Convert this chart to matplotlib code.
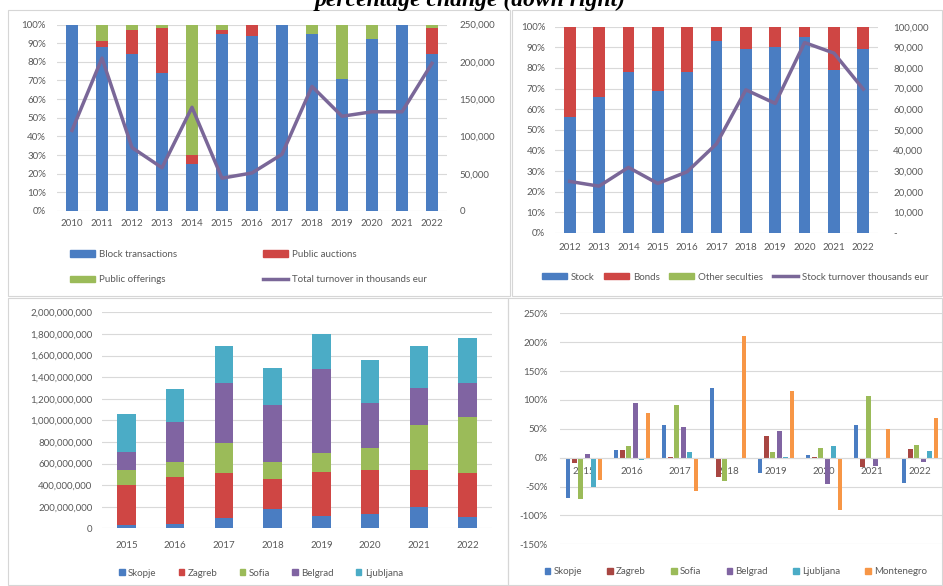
import matplotlib
matplotlib.use("Agg")
import matplotlib.pyplot as plt
from matplotlib.patches import Patch, Rectangle
from matplotlib.lines import Line2D
from matplotlib.ticker import FuncFormatter
import numpy as np

W, H = 943, 586

# --- trading structure by type, 2010-2022 (shares in %) ---
years_a = [str(y) for y in range(2010, 2023)]
block_pct = [100, 88, 84, 74, 25, 95, 94, 100, 95, 71, 92, 100, 84]
auction_pct = [0, 3, 13, 24, 5, 2, 6, 0, 0, 0, 0, 0, 14]
offering_pct = [0, 9, 3, 2, 70, 3, 0, 0, 5, 29, 8, 0, 2]
total_turnover = [108000, 205000, 85000, 58000, 139000, 44000, 51000,
                  76000, 167000, 127000, 133000, 133000, 198000]

# --- stock / bonds structure, 2012-2022 (shares in %) ---
years_b = [str(y) for y in range(2012, 2023)]
stock_pct = [56, 66, 78, 69, 78, 93, 89, 90, 95, 79, 89]
bonds_pct = [44, 34, 22, 31, 22, 7, 11, 10, 5, 21, 11]
other_pct = [0, 0, 0, 0, 0, 0, 0, 0, 0, 0, 0]
stock_turnover = [25000, 22700, 31800, 24000, 29700, 43200, 69400,
                  62800, 92300, 87200, 69700]

# --- regional turnover, 2015-2022 (millions) ---
years_c = [str(y) for y in range(2015, 2023)]
cities = ["Skopje", "Zagreb", "Sofia", "Belgrad", "Ljubljana"]
skopje_vol = [35, 37, 100, 179, 117, 130, 200, 107]
zagreb_vol = [370, 441, 415, 275, 408, 410, 340, 402]
sofia_vol = [135, 139, 272, 163, 169, 207, 417, 520]
belgrad_vol = [170, 364, 556, 525, 781, 410, 345, 318]
ljubljana_vol = [345, 309, 348, 346, 324, 402, 386, 418]

# --- yearly percentage change, 2015-2022 ---
markets = ["Skopje", "Zagreb", "Sofia", "Belgrad", "Ljubljana", "Montenegro"]
skopje_chg = [-70, 13, 56, 120, -26, 5, 56, -43]
zagreb_chg = [-10, 13, 2, -34, 37, 1, -17, 15]
sofia_chg = [-71, 20, 91, -41, 9, 17, 107, 22]
belgrad_chg = [6, 94, 53, -1, 46, -46, -14, -7]
ljubljana_chg = [-51, -4, 10, -1, 1, 21, -3, 12]
montenegro_chg = [-38, 77, -58, 210, 116, -90, 50, 68]

BLUE = "#4A7DC2"
RED = "#CF4644"
GREEN = "#9BBB59"
PURPLE = "#8064A2"
LINE = "#7A6798"
AQUA = "#4BACC6"
ORANGE = "#F79646"
DARKRED = "#A84642"
TXT = "#595959"
GRID = "#D9D9D9"
FONT = "Lato"

plt.rcParams["font.family"] = [FONT, "DejaVu Sans"]


def px_rect(x0, y0, x1, y1):
    return [x0 / W, 1 - y1 / H, (x1 - x0) / W, (y1 - y0) / H]


def fx(x):
    return x / W


def fy(y):
    return 1 - y / H


def style(ax, grid=True, pad_y=7, pad_x=6):
    for s in ax.spines.values():
        s.set_visible(False)
    ax.tick_params(length=0, labelsize=7, labelcolor=TXT)
    ax.tick_params(axis="y", pad=pad_y)
    ax.tick_params(axis="x", pad=pad_x)
    if grid:
        ax.yaxis.grid(True, color=GRID, linewidth=0.8)
    ax.set_axisbelow(True)


pct_fmt = FuncFormatter(lambda v, p: f"{v:.0f}%")
thou_fmt = FuncFormatter(lambda v, p: f"{v:,.0f}")

fig = plt.figure(figsize=(W / 100, H / 100), dpi=100)

# panel frames
for x0, y0, x1, y1 in [(8, 10, 510, 296), (512, 10, 942, 296),
                       (8, 298, 508, 585), (508, 298, 942, 585)]:
    fig.add_artist(Rectangle((fx(x0), fy(y1)), (x1 - x0) / W, (y1 - y0) / H,
                             transform=fig.transFigure, fill=False,
                             edgecolor="#D6D6D6", linewidth=0.8))

fig.text(fx(470), fy(6), "percentage change (down right)", ha="center",
         va="baseline", family="Liberation Serif", weight="bold",
         style="italic", size=17, color="black")

# ---------- top left ----------
ax1 = fig.add_axes(px_rect(57, 24.5, 447, 211))
x = np.arange(len(years_a))
b1 = np.array(block_pct)
b2 = b1 + np.array(auction_pct)
ax1.bar(x, block_pct, width=0.39, color=BLUE)
ax1.bar(x, auction_pct, width=0.39, bottom=b1, color=RED)
ax1.bar(x, offering_pct, width=0.39, bottom=b2, color=GREEN)
ax1.set_xlim(-0.5, 12.5)
ax1.set_ylim(0, 100)
ax1.set_yticks(range(0, 101, 10))
ax1.yaxis.set_major_formatter(pct_fmt)
ax1.set_xticks(x)
ax1.set_xticklabels(years_a)
style(ax1, pad_y=8, pad_x=6)
ax1t = ax1.twinx()
ax1t.plot(x, total_turnover, color=LINE, linewidth=2.5)
ax1t.set_ylim(0, 250000)
ax1t.set_yticks(range(0, 250001, 50000))
ax1t.yaxis.set_major_formatter(thou_fmt)
style(ax1t, grid=False, pad_y=9)

leg_kw = dict(frameon=False, fontsize=7, labelcolor=TXT, handlelength=2.6,
              handleheight=0.6, handletextpad=0.4, borderpad=0,
              borderaxespad=0)
fig.legend([Patch(color=BLUE), Patch(color=GREEN)],
           ["Block transactions", "Public offerings"], loc="upper left",
           bbox_to_anchor=(fx(70), fy(250)), labelspacing=1.65, **leg_kw)
fig.legend([Patch(color=RED), Line2D([], [], color=LINE, linewidth=2.5)],
           ["Public auctions", "Total turnover in thousands eur"],
           loc="upper left", bbox_to_anchor=(fx(263), fy(250)),
           labelspacing=1.65, **leg_kw)

# ---------- top right ----------
ax2 = fig.add_axes(px_rect(555, 26.7, 878, 233))
x = np.arange(len(years_b))
s1 = np.array(stock_pct)
s2 = s1 + np.array(bonds_pct)
ax2.bar(x, stock_pct, width=0.4, color=BLUE)
ax2.bar(x, bonds_pct, width=0.4, bottom=s1, color=RED)
ax2.bar(x, other_pct, width=0.4, bottom=s2, color=GREEN)
ax2.set_xlim(-0.5, 10.5)
ax2.set_ylim(0, 100)
ax2.set_yticks(range(0, 101, 10))
ax2.yaxis.set_major_formatter(pct_fmt)
ax2.set_xticks(x)
ax2.set_xticklabels(years_b)
style(ax2, pad_y=7, pad_x=7)
ax2t = ax2.twinx()
ax2t.plot(x, stock_turnover, color=LINE, linewidth=2.5)
ax2t.set_ylim(0, 100000)
ax2t.set_yticks(range(0, 100001, 10000))
ax2t.yaxis.set_major_formatter(
    FuncFormatter(lambda v, p: "-" if v == 0 else f"{v:,.0f}"))
style(ax2t, grid=False, pad_y=11)

fig.legend([Patch(color=BLUE), Patch(color=RED), Patch(color=GREEN),
            Line2D([], [], color=LINE, linewidth=2.5)],
           ["Stock", "Bonds", "Other seculties", "Stock turnover thousands eur"],
           loc="center", bbox_to_anchor=(fx(735), fy(277)), ncol=4,
           columnspacing=0.95, **leg_kw)

# ---------- bottom left ----------
ax3 = fig.add_axes(px_rect(102, 312.3, 492, 528.3))
x = np.arange(len(years_c))
vols = [skopje_vol, zagreb_vol, sofia_vol, belgrad_vol, ljubljana_vol]
vol_colors = [BLUE, RED, GREEN, PURPLE, AQUA]
bottom = np.zeros(len(years_c))
for vals, col in zip(vols, vol_colors):
    v = np.array(vals) * 1e6
    ax3.bar(x, v, width=0.38, bottom=bottom, color=col)
    bottom += v
ax3.set_xlim(-0.5, 7.5)
ax3.set_ylim(0, 2e9)
ax3.set_yticks(np.arange(0, 2.0e9 + 1, 2e8))
ax3.yaxis.set_major_formatter(thou_fmt)
ax3.set_xticks(x)
ax3.set_xticklabels(years_c)
style(ax3, pad_y=7, pad_x=9)

sq_kw = dict(frameon=False, fontsize=7, labelcolor=TXT, handlelength=0.55,
             handleheight=0.55, handletextpad=0.35, borderpad=0,
             borderaxespad=0)
fig.legend([Patch(color=c) for c in vol_colors], cities, loc="center",
           bbox_to_anchor=(fx(261), fy(573)), ncol=5, columnspacing=2.3,
           **sq_kw)

# ---------- bottom right ----------
ax4 = fig.add_axes(px_rect(560, 313.3, 944, 544.3))
chgs = [skopje_chg, zagreb_chg, sofia_chg, belgrad_chg, ljubljana_chg,
        montenegro_chg]
chg_colors = [BLUE, DARKRED, GREEN, PURPLE, AQUA, ORANGE]
slot = 0.133
for k, (vals, col) in enumerate(zip(chgs, chg_colors)):
    ax4.bar(x + (k - 2.5) * slot, vals, width=0.1, color=col, zorder=2)
ax4.set_xlim(-0.5, 7.5)
ax4.set_ylim(-150, 250)
ax4.set_yticks(range(-150, 251, 50))
ax4.yaxis.set_major_formatter(pct_fmt)
ax4.set_xticks(x)
ax4.set_xticklabels(years_c)
style(ax4, pad_y=9, pad_x=7)
ax4.spines["bottom"].set_visible(True)
ax4.spines["bottom"].set_position(("data", 0))
ax4.spines["bottom"].set_color(GRID)
ax4.spines["bottom"].set_linewidth(0.8)

fig.legend([Patch(color=c) for c in chg_colors], markets, loc="center",
           bbox_to_anchor=(fx(736), fy(572)), ncol=6, columnspacing=2.6,
           **sq_kw)

fig.savefig("out.png", dpi=100)
